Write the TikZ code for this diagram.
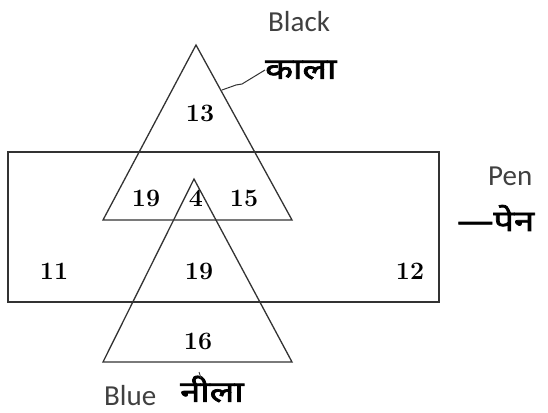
\documentclass[tikz,border=0pt]{standalone}
\usepackage{fontspec}
\newfontfamily\labfont{Carlito}
\newfontfamily\deva[Script=Devanagari, FakeBold=2.5, FakeStretch=1.25]{Noto Sans}
\definecolor{labgray}{HTML}{404040}
\definecolor{linegray}{HTML}{333333}
\tikzset{
  shapeline/.style={draw=linegray, line width=1.3pt, line join=miter},
  num/.style={font=\fontsize{25}{28}\selectfont\bfseries, text=black, inner sep=0pt},
  eng/.style={font=\labfont\fontsize{29}{32}\selectfont, text=labgray, inner sep=0pt},
  hin/.style={font=\deva\fontsize{29}{33}\selectfont, text=black, inner sep=0pt},
}
\begin{document}
\begin{tikzpicture}[x=1pt,y=-1pt]
\useasboundingbox (0,0) rectangle (548,412);
% rectangle (Pen)
\draw[shapeline] (8,152) rectangle (439,302);
% Black triangle
\draw[shapeline] (196,45) -- (292,220) -- (103,220) -- cycle;
% Blue triangle
\draw[shapeline] (194,179) -- (292,362) -- (103,362) -- cycle;
% numbers
\node[num] (n13) at (200,113) {13};
\node[num] (n19a) at (146,198) {19};
\node[num] (n4) at (196,198) {4};
\node[num] (n15) at (244,198) {15};
\node[num] (n11) at (54,271) {11};
\node[num] (n19b) at (199,271) {19};
\node[num] (n12) at (410,271) {12};
\node[num] (n16) at (198,341) {16};
% labels
\node[eng, anchor=base west] (black) at (268,32) {Black};
\node[hin, anchor=west] (kala) at (265,70) {काला};
\node[eng, anchor=base west] (pen) at (488,185) {Pen};
\node[hin, anchor=west] (pena) at (457,218) {—पेन};
\node[eng, anchor=base west] (blue) at (104,405) {Blue};
\node[hin, anchor=west] (nila) at (180,389) {नीला};
% connector from black triangle to label
\coordinate (tside) at (222,90);
\draw[linegray, line width=1pt] (tside) -- (236,85) -- (242,84) -- (kala.west);
% small tick mark
\draw[linegray, line width=0.8pt] (199,372) -- (201,378);
\end{tikzpicture}
\end{document}
